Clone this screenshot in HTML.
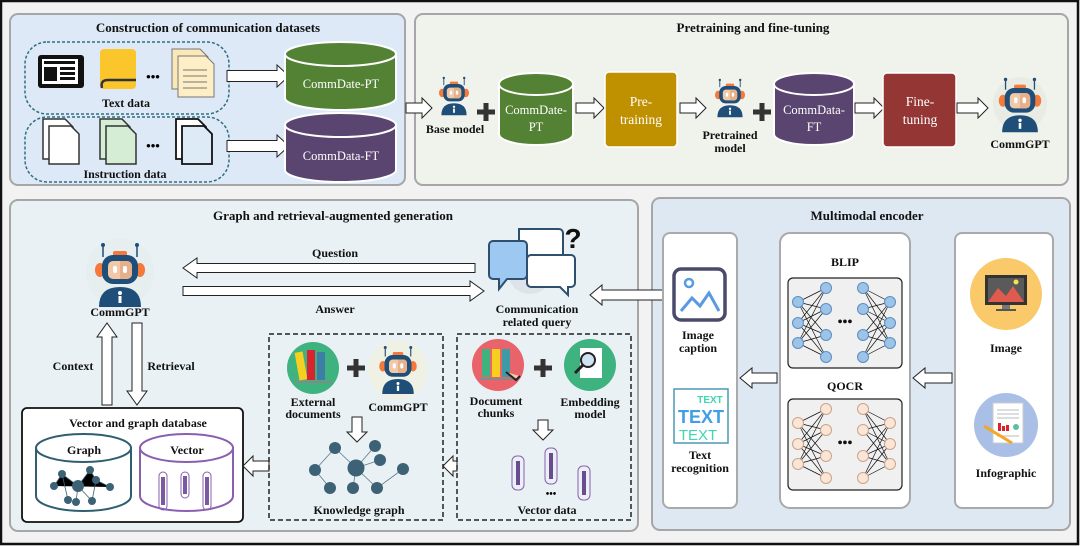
<!DOCTYPE html>
<html><head><meta charset="utf-8"><style>
html,body{margin:0;padding:0;background:#fff}
svg{display:block}
text{font-family:"Liberation Serif",serif}
.t{font-weight:bold;font-size:13px;fill:#111}
.l{font-weight:bold;font-size:12px;fill:#111}
.w{font-size:12.5px;fill:#fff}
.w2{font-size:13.5px;fill:#fff}
.ar{fill:#fff;stroke:#222;stroke-width:1}
.sans{font-family:"Liberation Sans",sans-serif}
</style></head><body>
<svg width="1080" height="546" viewBox="0 0 1080 546" xmlns="http://www.w3.org/2000/svg">
<defs>
<g id="robot">
 <line x1="-17" y1="-30" x2="-17" y2="-18" stroke="#1f4e79" stroke-width="1.5"/>
 <line x1="17" y1="-30" x2="17" y2="-18" stroke="#1f4e79" stroke-width="1.5"/>
 <circle cx="-17" cy="-30" r="2" fill="#1f4e79"/><circle cx="17" cy="-30" r="2" fill="#1f4e79"/>
 <rect x="-7" y="-24" width="14" height="6" rx="2" fill="#f4793b"/>
 <ellipse cx="-20" cy="-5" rx="5" ry="7" fill="#f4793b"/><ellipse cx="20" cy="-5" rx="5" ry="7" fill="#f4793b"/>
 <rect x="-18" y="-20" width="36" height="29" rx="11" fill="#1f4e79"/>
 <rect x="-12" y="-14" width="24" height="18" rx="5" fill="#f2c9a8"/>
 <path d="M0,-14 h7 a5,5 0 0 1 5,5 v8 a5,5 0 0 1 -5,5 h-7z" fill="#e6b08a"/>
 <rect x="-7" y="-9" width="4" height="7" rx="2" fill="#fff"/><rect x="3" y="-9" width="4" height="7" rx="2" fill="#fff"/>
 <path d="M-21,32 Q-21,12 0,12 Q21,12 21,32 Z" fill="#1f4e79"/>
 <circle cx="0" cy="18" r="2" fill="#fff"/><rect x="-1.5" y="21" width="3" height="7" fill="#fff"/>
</g>
<g id="plus"><rect x="-9" y="-2.5" width="18" height="5" fill="#333"/><rect x="-2.5" y="-9" width="5" height="18" fill="#333"/></g>
<g id="net" stroke-width="1">
 <g stroke="#111" stroke-width="0.7">
 <path d="M798,302L826,288M798,302L826,309M798,302L826,335M798,302L826,357M798,323L826,288M798,323L826,309M798,323L826,335M798,323L826,357M798,343L826,288M798,343L826,309M798,343L826,335M798,343L826,357"/>
 <path d="M890,302L863,288M890,302L863,309M890,302L863,335M890,302L863,357M890,323L863,288M890,323L863,309M890,323L863,335M890,323L863,357M890,343L863,288M890,343L863,309M890,343L863,335M890,343L863,357"/>
 </g>
 <circle cx="798" cy="302" r="5.5"/><circle cx="798" cy="323" r="5.5"/><circle cx="798" cy="343" r="5.5"/>
 <circle cx="826" cy="288" r="5.5"/><circle cx="826" cy="309" r="5.5"/><circle cx="826" cy="335" r="5.5"/><circle cx="826" cy="357" r="5.5"/>
 <circle cx="863" cy="288" r="5.5"/><circle cx="863" cy="309" r="5.5"/><circle cx="863" cy="335" r="5.5"/><circle cx="863" cy="357" r="5.5"/>
 <circle cx="890" cy="302" r="5.5"/><circle cx="890" cy="323" r="5.5"/><circle cx="890" cy="343" r="5.5"/>
 <text x="845" y="326" text-anchor="middle" font-weight="bold" font-size="14" fill="#111" stroke="none">•••</text>
</g>
</defs>

<rect x="0" y="0" width="1080" height="546" fill="#f2f2f2"/>
<rect x="1" y="1" width="1077" height="543" fill="none" stroke="#111" stroke-width="2.5"/>

<!-- Panel 1 -->
<rect x="10" y="14" width="395" height="171" rx="8" fill="#dde9f6" stroke="#a6a6a6" stroke-width="2"/>
<text x="208" y="32" text-anchor="middle" class="t">Construction of communication datasets</text>
<rect x="25" y="42" width="204" height="72" rx="22" fill="none" stroke="#2f6f80" stroke-width="1.5" stroke-dasharray="3,2"/>
<rect x="25" y="117" width="204" height="65" rx="22" fill="none" stroke="#2f6f80" stroke-width="1.5" stroke-dasharray="3,2"/>
<rect x="38" y="55" width="46" height="33" rx="3" fill="#111"/>
<rect x="42" y="59" width="36" height="25" fill="#fff"/>
<rect x="44" y="67" width="13" height="14" fill="#111"/>
<rect x="60" y="67" width="15" height="3" fill="#111"/><rect x="60" y="72" width="15" height="3" fill="#111"/><rect x="60" y="77" width="15" height="3" fill="#111"/>
<rect x="44" y="61" width="31" height="3" fill="#111"/>
<rect x="100" y="49" width="36" height="40" rx="4" fill="#fbc52c"/>
<path d="M102,88 Q100,80 108,80 L136,80" fill="none" stroke="#333" stroke-width="2.5"/>
<text x="153" y="81" text-anchor="middle" font-weight="bold" font-size="13">•••</text>
<path d="M172,49 h28 l8,8 v32 h-36z" fill="#fbe8b8" stroke="#777"/>
<path d="M178,56 h28 l8,8 v33 h-36z" fill="#fdeec6" stroke="#777"/>
<path d="M183,70h24M183,76h24M183,82h24M183,88h24" stroke="#777"/>
<text x="126" y="107" text-anchor="middle" class="l">Text data</text>
<path d="M43,119 h22 l8,8 v32 h-30z" fill="#fff" stroke="#333" stroke-width="1.5"/>
<path d="M49,126 h22 l8,8 v30 h-30z" fill="#fff" stroke="#333" stroke-width="1.5"/>
<path d="M100,119 h22 l8,8 v32 h-30z" fill="#d5ecd5" stroke="#333" stroke-width="1.5"/>
<path d="M106,126 h22 l8,8 v30 h-30z" fill="#d5ecd5" stroke="#333" stroke-width="1.5"/>
<text x="153" y="150" text-anchor="middle" font-weight="bold" font-size="13">•••</text>
<path d="M176,119 h22 l8,8 v32 h-30z" fill="#fff" stroke="#111" stroke-width="1.8"/>
<path d="M182,126 h22 l8,8 v30 h-30z" fill="#ddebf7" stroke="#111" stroke-width="1.8"/>
<text x="125" y="178" text-anchor="middle" class="l">Instruction data</text>
<polygon class="ar" points="227,70.5 277,70.5 277,65 289,76 277,87 277,81.5 227,81.5"/>
<polygon class="ar" points="227,140.5 277,140.5 277,135 289,146 277,157 277,151.5 227,151.5"/>
<path d="M285,54 v44 a55.5,12 0 0 0 111,0 v-44z" fill="#548235" stroke="#fff" stroke-width="2"/>
<ellipse cx="340.5" cy="54" rx="55.5" ry="12" fill="#548235" stroke="#fff" stroke-width="2"/>
<text x="341" y="88" text-anchor="middle" class="w">CommDate-PT</text>
<path d="M285,125 v45 a55.5,12 0 0 0 111,0 v-45z" fill="#5a4570" stroke="#fff" stroke-width="2"/>
<ellipse cx="340.5" cy="125" rx="55.5" ry="12" fill="#5a4570" stroke="#fff" stroke-width="2"/>
<text x="341" y="160" text-anchor="middle" class="w">CommData-FT</text>

<!-- Panel 2 -->
<rect x="415" y="14" width="653" height="171" rx="8" fill="#f0f2ec" stroke="#a6a6a6" stroke-width="2"/>
<text x="753" y="32" text-anchor="middle" class="t">Pretraining and fine-tuning</text>
<polygon class="ar" points="406,103 422,103 422,98 432,108 422,118 422,113 406,113"/>
<use href="#robot" transform="translate(454,96) scale(0.6)"/>
<text x="455" y="133" text-anchor="middle" class="l">Base model</text>
<use href="#plus" transform="translate(486,112)"/>
<path d="M499,84 v50 a37,11 0 0 0 74,0 v-50z" fill="#548235" stroke="#fff" stroke-width="2"/>
<ellipse cx="536" cy="84" rx="37" ry="11" fill="#548235" stroke="#fff" stroke-width="2"/>
<text x="536" y="114" text-anchor="middle" class="w">CommDate-</text>
<text x="536" y="131" text-anchor="middle" class="w">PT</text>
<polygon class="ar" points="576,103 594,103 594,98 604,108 594,118 594,113 576,113"/>
<rect x="605" y="72" width="72" height="75" rx="4" fill="#bf9000" stroke="#fff" stroke-width="1.5"/>
<text x="641" y="106" text-anchor="middle" class="w2">Pre-</text>
<text x="641" y="124" text-anchor="middle" class="w2">training</text>
<polygon class="ar" points="680,103 696,103 696,98 706,108 696,118 696,113 680,113"/>
<use href="#robot" transform="translate(730,98) scale(0.6)"/>
<text x="730" y="139" text-anchor="middle" class="l">Pretrained</text>
<text x="730" y="152" text-anchor="middle" class="l">model</text>
<use href="#plus" transform="translate(762,112)"/>
<path d="M774,84 v50 a40,11 0 0 0 80,0 v-50z" fill="#5a4570" stroke="#fff" stroke-width="2"/>
<ellipse cx="814" cy="84" rx="40" ry="11" fill="#5a4570" stroke="#fff" stroke-width="2"/>
<text x="814" y="114" text-anchor="middle" class="w">CommData-</text>
<text x="814" y="131" text-anchor="middle" class="w">FT</text>
<polygon class="ar" points="855,103 874,103 874,98 884,108 874,118 874,113 855,113"/>
<rect x="883" y="73" width="73" height="74" rx="4" fill="#943634" stroke="#fff" stroke-width="1.5"/>
<text x="920" y="106" text-anchor="middle" class="w2">Fine-</text>
<text x="920" y="124" text-anchor="middle" class="w2">tuning</text>
<polygon class="ar" points="957,103 978,103 978,98 988,108 978,118 978,113 957,113"/>
<circle cx="1020" cy="104" r="27" fill="#e9ece4"/>
<use href="#robot" transform="translate(1020,105) scale(0.85)"/>
<text x="1020" y="148" text-anchor="middle" class="l">CommGPT</text>

<!-- Panel 3 -->
<rect x="10" y="200" width="628" height="331" rx="8" fill="#e9f1f4" stroke="#a6a6a6" stroke-width="2"/>
<text x="333" y="220" text-anchor="middle" class="t">Graph and retrieval-augmented generation</text>
<circle cx="120" cy="272" r="34" fill="#e6eef0"/>
<use href="#robot" transform="translate(120,275) scale(1.0)"/>
<text x="120" y="316" text-anchor="middle" class="l">CommGPT</text>
<text x="335" y="257" text-anchor="middle" class="l">Question</text>
<polygon class="ar" points="475,263.5 197,263.5 197,258 183,268 197,278 197,272.5 475,272.5"/>
<polygon class="ar" points="183,286.5 470,286.5 470,281 484,291 470,301 470,295.5 183,295.5"/>
<text x="335" y="313" text-anchor="middle" class="l">Answer</text>
<circle cx="530" cy="272" r="22" fill="#dde3e8"/>
<path d="M519,229 h40 a4,4 0 0 1 4,4 v28 h-44z" fill="#fff" stroke="#2f4f6f" stroke-width="2"/>
<path d="M493,241 h30 a4,4 0 0 1 4,4 v30 a4,4 0 0 1 -4,4 h-16 l-8,10 v-10 h-6 a4,4 0 0 1 -4,-4 v-30 a4,4 0 0 1 4,-4z" fill="#9cc8f2" stroke="#2f4f6f" stroke-width="2"/>
<path d="M531,255 h40 a4,4 0 0 1 4,4 v24 a4,4 0 0 1 -4,4 h-3 v8 l-8,-8 h-29 a4,4 0 0 1 -4,-4 v-24 a4,4 0 0 1 4,-4z" fill="#fff" stroke="#2f4f6f" stroke-width="2"/>
<text x="573" y="248" text-anchor="middle" font-weight="bold" font-size="28" fill="#111" class="sans">?</text>
<text x="537" y="313" text-anchor="middle" class="l">Communication</text>
<text x="537" y="326" text-anchor="middle" class="l">related query</text>
<polygon class="ar" points="102,405 102,337 97,337 107,323 117,337 112,337 112,405"/>
<polygon class="ar" points="132,323 132,391 127,391 137,405 147,391 142,391 142,323"/>
<text x="73" y="370" text-anchor="middle" class="l">Context</text>
<text x="171" y="370" text-anchor="middle" class="l">Retrieval</text>
<rect x="22" y="408" width="221" height="114" rx="5" fill="#fff" stroke="#111" stroke-width="1.8"/>
<text x="138" y="427" text-anchor="middle" class="l">Vector and graph database</text>
<path d="M36,448 v48 a47.5,15 0 0 0 95,0 v-48z" fill="#fff" stroke="#2f5f6f" stroke-width="2"/>
<ellipse cx="83.5" cy="448" rx="47.5" ry="14" fill="#fff" stroke="#2f5f6f" stroke-width="2"/>
<text x="84" y="454" text-anchor="middle" class="l" font-size="13">Graph</text>
<g stroke="#3d6275" stroke-width="0.8"><path d="M54,486 L62,474 L78,486 L90,470 L96,480 L110,487 M62,474 L68,500 M78,486 L76,502 M78,486 L92,501 M96,480 L92,501"/></g>
<g fill="#3d6275"><circle cx="54" cy="486" r="4"/><circle cx="62" cy="474" r="4"/><circle cx="78" cy="486" r="6"/><circle cx="90" cy="470" r="4"/><circle cx="96" cy="480" r="4"/><circle cx="110" cy="487" r="4"/><circle cx="68" cy="500" r="4"/><circle cx="76" cy="502" r="4"/><circle cx="92" cy="501" r="4"/></g>
<path d="M140,448 v48 a46.5,15 0 0 0 93,0 v-48z" fill="#fff" stroke="#8a5fb0" stroke-width="2"/>
<ellipse cx="186.5" cy="448" rx="46.5" ry="14" fill="#fff" stroke="#8a5fb0" stroke-width="2"/>
<text x="187" y="454" text-anchor="middle" class="l" font-size="13">Vector</text>
<g fill="none" stroke="#8a5fb0" stroke-width="1"><rect x="159" y="472" width="8" height="38" rx="4"/><rect x="181" y="472" width="8" height="26" rx="4"/><rect x="203" y="472" width="8" height="38" rx="4"/></g>
<g fill="#7a5aa0"><rect x="161" y="477" width="4" height="28"/><rect x="183" y="476" width="4" height="18"/><rect x="205" y="477" width="4" height="28"/></g>
<polygon class="ar" points="269,461 253,461 253,456 243,466 253,476 253,471 269,471"/>
<rect x="269" y="334" width="174" height="186" fill="none" stroke="#222" stroke-width="1.5" stroke-dasharray="5,3"/>
<circle cx="313" cy="368" r="26" fill="#3fb37f"/>
<rect x="297" y="352" width="8" height="28" fill="#f5d020" transform="rotate(-10 301 366)"/>
<rect x="307" y="350" width="8" height="30" fill="#d9232e"/><rect x="317" y="352" width="8" height="28" fill="#3d7ea6"/>
<rect x="295" y="381" width="36" height="2" fill="#888"/>
<use href="#plus" transform="translate(356,368)"/>
<circle cx="398" cy="370" r="30" fill="#eef1e4"/>
<use href="#robot" transform="translate(398,370) scale(0.75)"/>
<text x="313" y="406" text-anchor="middle" class="l">External</text>
<text x="313" y="418" text-anchor="middle" class="l">documents</text>
<text x="398" y="411" text-anchor="middle" class="l">CommGPT</text>
<polygon class="ar" points="352,417 352,432 347,432 357,442 367,432 362,432 362,417"/>
<g stroke="#5a7a8a" stroke-width="0.8"><path d="M335,448L315,470M335,448L356,468M356,468L375,446M356,468L380,460M315,470L330,488M356,468L353,488M356,468L377,488M377,488L403,469"/></g>
<g fill="#3d6275"><circle cx="335" cy="448" r="6"/><circle cx="375" cy="446" r="6"/><circle cx="380" cy="460" r="6"/><circle cx="356" cy="468" r="8.5"/><circle cx="315" cy="470" r="6"/><circle cx="403" cy="469" r="6"/><circle cx="330" cy="488" r="6"/><circle cx="353" cy="488" r="6"/><circle cx="377" cy="488" r="6"/></g>
<text x="359" y="514" text-anchor="middle" class="l">Knowledge graph</text>
<polygon class="ar" points="457,461 453,461 453,456 443,466 453,476 453,471 457,471"/>
<rect x="457" y="334" width="174" height="186" fill="none" stroke="#222" stroke-width="1.5" stroke-dasharray="5,3"/>
<circle cx="498" cy="365" r="26" fill="#e8636a"/>
<rect x="482" y="349" width="8" height="28" fill="#3fb37f"/><rect x="492" y="349" width="8" height="28" fill="#f5d020"/><rect x="502" y="349" width="8" height="28" fill="#3d9ba6"/>
<rect x="480" y="378" width="36" height="2" fill="#888"/>
<path d="M506,372 l10,8 l4,-4" fill="#f2c9a8" stroke="#222" stroke-width="2"/>
<use href="#plus" transform="translate(543,368)"/>
<circle cx="590" cy="365" r="26" fill="#3fb37f"/>
<rect x="580" y="348" width="22" height="30" fill="#fff"/>
<circle cx="588" cy="360" r="7" fill="#cfe3f2" stroke="#222" stroke-width="2"/>
<line x1="583" y1="365" x2="575" y2="373" stroke="#222" stroke-width="3"/>
<text x="496" y="405" text-anchor="middle" class="l">Document</text>
<text x="496" y="417" text-anchor="middle" class="l">chunks</text>
<text x="590" y="406" text-anchor="middle" class="l">Embedding</text>
<text x="590" y="418" text-anchor="middle" class="l">model</text>
<polygon class="ar" points="538,420 538,430 533,430 543,440 553,430 548,430 548,420"/>
<g fill="none" stroke="#8a5fb0" stroke-width="1"><rect x="512" y="456" width="12" height="34" rx="5"/><rect x="545" y="448" width="12" height="36" rx="5"/><rect x="578" y="466" width="12" height="34" rx="5"/></g>
<g fill="#6a4a90"><rect x="516" y="461" width="4" height="24"/><rect x="549" y="453" width="4" height="26"/><rect x="582" y="471" width="4" height="24"/></g>
<text x="551" y="497" text-anchor="middle" font-weight="bold" font-size="10">•••</text>
<text x="547" y="514" text-anchor="middle" class="l">Vector data</text>

<!-- Panel 4 -->
<rect x="652" y="198" width="418" height="332" rx="8" fill="#dde8f3" stroke="#a6a6a6" stroke-width="2"/>
<text x="867" y="220" text-anchor="middle" class="t">Multimodal encoder</text>
<polygon class="ar" points="663,290 602,290 602,285 590,295 602,305 602,300 663,300"/>
<rect x="663" y="233" width="74" height="275" rx="7" fill="#fff" stroke="#aaa" stroke-width="2"/>
<rect x="674" y="269" width="51" height="51" rx="7" fill="#fff" stroke="#4a4a6a" stroke-width="3.5"/>
<circle cx="689" cy="283" r="4" fill="none" stroke="#5a9ae0" stroke-width="2.5"/>
<path d="M681,311 L692,298 L700,306 L709,293 L719,311" fill="none" stroke="#5a9ae0" stroke-width="3"/>
<text x="698" y="339" text-anchor="middle" class="l">Image</text>
<text x="698" y="352" text-anchor="middle" class="l">caption</text>
<rect x="674" y="389" width="54" height="54" fill="#fff" stroke="#4a9ab0" stroke-width="1.5"/>
<text x="710" y="403" text-anchor="middle" class="sans" font-weight="bold" font-size="10" fill="#3fd6b0">TEXT</text>
<text x="701" y="423" text-anchor="middle" class="sans" font-weight="bold" font-size="18" fill="#3f9ee8">TEXT</text>
<text x="698" y="440" text-anchor="middle" class="sans" font-size="15" fill="#3fd6b0">TEXT</text>
<text x="700" y="459" text-anchor="middle" class="l">Text</text>
<text x="700" y="472" text-anchor="middle" class="l">recognition</text>
<polygon class="ar" points="777,373 752,373 752,368 740,378 752,388 752,383 777,383"/>
<rect x="780" y="233" width="130" height="275" rx="10" fill="#fff" stroke="#aaa" stroke-width="2"/>
<text x="845" y="266" text-anchor="middle" class="l">BLIP</text>
<rect x="788" y="278" width="114" height="90" rx="5" fill="#f0f0f0" stroke="#222" stroke-width="1.2"/>
<use href="#net" fill="#9dc3e6" stroke="#5a8fc5"/>
<text x="845" y="390" text-anchor="middle" class="l">QOCR</text>
<rect x="788" y="399" width="114" height="91" rx="5" fill="#f0f0f0" stroke="#222" stroke-width="1.2"/>
<use href="#net" transform="translate(0,121)" fill="#fbe5d6" stroke="#c9a58a"/>
<polygon class="ar" points="952,373 925,373 925,368 913,378 925,388 925,383 952,383"/>
<rect x="955" y="233" width="98" height="275" rx="7" fill="#fff" stroke="#aaa" stroke-width="2"/>
<circle cx="1006" cy="294" r="36" fill="#f9c96a"/>
<rect x="985" y="275" width="42" height="30" fill="#333"/>
<rect x="988" y="278" width="36" height="24" fill="#5a5a5a"/>
<path d="M988,302 L998,288 L1006,296 L1013,286 L1024,302z" fill="#e05a4e"/>
<circle cx="1016" cy="282" r="2.5" fill="#f9e24a"/>
<rect x="1002" y="305" width="8" height="4" fill="#777"/><rect x="996" y="309" width="20" height="2" fill="#555"/>
<text x="1006" y="352" text-anchor="middle" class="l">Image</text>
<circle cx="1006" cy="425" r="32" fill="#a9bfe6"/>
<rect x="993" y="403" width="30" height="40" fill="#fff" stroke="#ccc"/>
<path d="M997,410h22M997,414h22M997,418h22M997,436h22" stroke="#bbb"/>
<rect x="998" y="423" width="3" height="8" fill="#d9232e"/><rect x="1002" y="426" width="3" height="5" fill="#d9232e"/><rect x="1006" y="425" width="3" height="6" fill="#d9232e"/>
<circle cx="1016" cy="427" r="3" fill="#5ac0a0"/>
<line x1="984" y1="426" x2="1012" y2="443" stroke="#f5a623" stroke-width="3"/>
<text x="1006" y="477" text-anchor="middle" class="l">Infographic</text>
</svg>
</body></html>
